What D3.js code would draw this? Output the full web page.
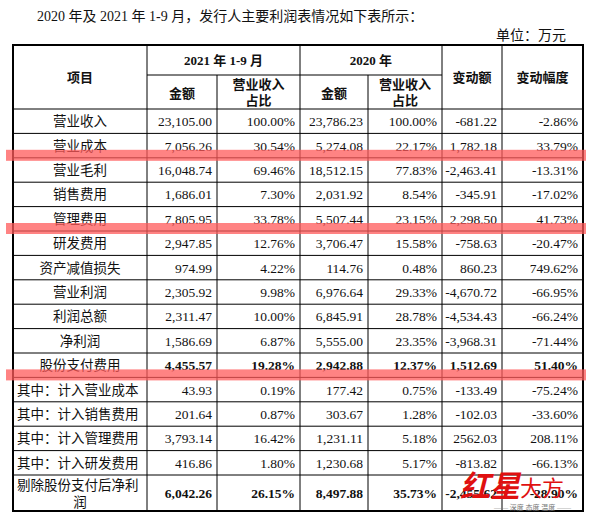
<!DOCTYPE html>
<html><head><meta charset="utf-8">
<script src="https://cdn.jsdelivr.net/npm/d3@7"></script>
<style>
body{margin:0;background:#fff;}
text{font-family:"Liberation Serif","Noto Sans CJK SC",serif;fill:#111;}
</style></head>
<body><svg id="tbl" width="591" height="519"></svg>
<script>
// rows of the table
const items = ["营业收入","营业成本","营业毛利","销售费用","管理费用","研发费用","资产减值损失","营业利润","利润总额","净利润","股份支付费用","其中：计入营业成本","其中：计入销售费用","其中：计入管理费用","其中：计入研发费用","剔除股份支付后净利润"];
const amt2021 = ["23,105.00","7,056.26","16,048.74","1,686.01","7,805.95","2,947.85","974.99","2,305.92","2,311.47","1,586.69","4,455.57","43.93","201.64","3,793.14","416.86","6,042.26"];
const pct2021 = ["100.00%","30.54%","69.46%","7.30%","33.78%","12.76%","4.22%","9.98%","10.00%","6.87%","19.28%","0.19%","0.87%","16.42%","1.80%","26.15%"];
const amt2020 = ["23,786.23","5,274.08","18,512.15","2,031.92","5,507.44","3,706.47","114.76","6,976.64","6,845.91","5,555.00","2,942.88","177.42","303.67","1,231.11","1,230.68","8,497.88"];
const pct2020 = ["100.00%","22.17%","77.83%","8.54%","23.15%","15.58%","0.48%","29.33%","28.78%","23.35%","12.37%","0.75%","1.28%","5.18%","5.17%","35.73%"];
const change = ["-681.22","1,782.18","-2,463.41","-345.91","2,298.50","-758.63","860.23","-4,670.72","-4,534.43","-3,968.31","1,512.69","-133.49","-102.03","2562.03","-813.82","-2,455.62"];
const changePct = ["-2.86%","33.79%","-13.31%","-17.02%","41.73%","-20.47%","749.62%","-66.95%","-66.24%","-71.44%","51.40%","-75.24%","-33.60%","208.11%","-66.13%","-28.90%"];
const boldRows = [10, 15];
const highlightAfter = [1, 4, 10];

const svg = d3.select("#tbl");
const colX = [13,147,217,300,368,442,502,583];
const headTop = 45, headMid = 75, headBot = 109, rowH = 24.4;
const rowY = d3.scaleLinear().domain([0,15]).range([headBot, headBot+15*rowH]);
const tableBot = 511;
const rowBottom = i => i < 15 ? rowY(i+1) : tableBot;

svg.append("text").attr("x",37).attr("y",21).attr("font-size",14).text("2020 年及 2021 年 1-9 月，发行人主要利润表情况如下表所示：");
svg.append("text").attr("x",566).attr("y",40).attr("font-size",14).attr("text-anchor","end").text("单位：万元");

const g = svg.append("g").attr("stroke","#000").attr("stroke-width",1);
// header
const hdr = svg.append("g").attr("font-weight","bold").attr("font-size",13).attr("text-anchor","middle");
hdr.append("text").attr("x",(colX[0]+colX[1])/2).attr("y",82).text("项目");
hdr.append("text").attr("x",(colX[1]+colX[3])/2).attr("y",65).text("2021 年 1-9 月");
hdr.append("text").attr("x",(colX[3]+colX[5])/2).attr("y",65).text("2020 年");
hdr.append("text").attr("x",(colX[5]+colX[6])/2).attr("y",82).text("变动额");
hdr.append("text").attr("x",(colX[6]+colX[7])/2).attr("y",82).text("变动幅度");
[1,3].forEach(c=>{
  hdr.append("text").attr("x",(colX[c]+colX[c+1])/2).attr("y",98).text("金额");
  hdr.append("text").attr("x",(colX[c+1]+colX[c+2])/2).attr("y",89).text("营业收入");
  hdr.append("text").attr("x",(colX[c+1]+colX[c+2])/2).attr("y",105).text("占比");
});

// grid lines
g.append("line").attr("x1",colX[1]).attr("x2",colX[5]).attr("y1",headMid).attr("y2",headMid);
d3.range(16).forEach(i=>g.append("line").attr("x1",colX[0]).attr("x2",colX[7]).attr("y1",rowY(i)).attr("y2",rowY(i)));
colX.slice(1,7).forEach((x,i)=>{
  const c=i+1;
  const top = (c===2||c===4) ? headMid : headTop;
  g.append("line").attr("x1",x).attr("x2",x).attr("y1",top).attr("y2",tableBot);
});
g.append("rect").attr("x",colX[0]).attr("y",headTop).attr("width",colX[7]-colX[0]).attr("height",tableBot-headTop)
  .attr("fill","none").attr("stroke-width",2);

// body
const cols = [amt2021,pct2021,amt2020,pct2020,change,changePct];
items.forEach((name,i)=>{
  const y0 = rowY(i), y1 = rowBottom(i), cy = (y0+y1)/2+5;
  const bold = boldRows.includes(i) ? "bold" : "normal";
  if (i===15){
    svg.append("text").attr("x",17).attr("y",y0+15).attr("font-size",13.5).text("剔除股份支付后净利");
    svg.append("text").attr("x",(colX[0]+colX[1])/2).attr("y",y0+32).attr("font-size",13.5).attr("text-anchor","middle").text("润");
  } else if (name.startsWith("其中")){
    svg.append("text").attr("x",17).attr("y",cy).attr("font-size",13.5).text(name);
  } else {
    svg.append("text").attr("x",(colX[0]+colX[1])/2).attr("y",cy).attr("font-size",13.5).attr("text-anchor","middle").text(name);
  }
  cols.forEach((arr,c)=>{
    svg.append("text").attr("x",colX[c+2]-5).attr("y",cy).attr("font-size",13.5)
      .attr("font-weight",bold).attr("text-anchor","end").text(arr[i]);
  });
});

// red highlight bands
highlightAfter.forEach(i=>{
  svg.append("rect").attr("x",6).attr("y",rowY(i+1)-8).attr("width",580).attr("height",11)
    .attr("fill","#ff5a5a").attr("opacity",0.75);
});

// watermark
const wm = svg.append("g");
wm.append("text").attr("x",460).attr("y",497).attr("font-size",30).attr("font-style","italic")
  .attr("font-weight","bold").style("fill","#e01010").text("红星");
wm.append("text").attr("x",520).attr("y",496).attr("font-size",22).style("fill","#e01010").text("大方");
wm.append("text").attr("x",494).attr("y",510).attr("font-size",7).style("fill","#777").text("—— 深度 态度 温度 ——");
</script></body></html>
